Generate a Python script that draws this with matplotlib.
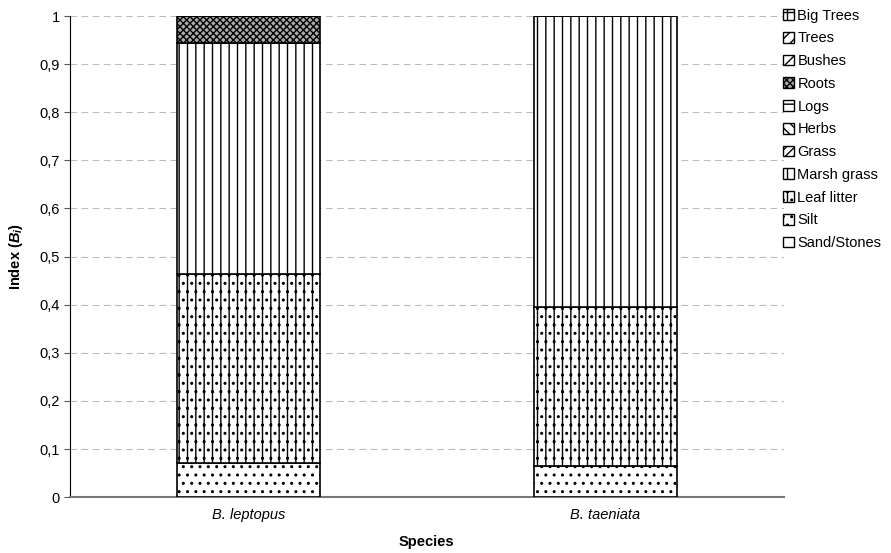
import numpy as np
import matplotlib
matplotlib.use("Agg")
import matplotlib.pyplot as plt
from matplotlib.patches import Patch

plt.rcParams['font.family'] = ['Liberation Sans', 'DejaVu Sans']
plt.rcParams['mathtext.fontset'] = 'custom'
plt.rcParams['mathtext.it'] = 'Liberation Sans:bold:italic'
plt.rcParams['mathtext.rm'] = 'Liberation Sans:bold'
plt.rcParams['hatch.color'] = '#707070'
plt.rcParams['hatch.linewidth'] = 1.0

species = ["B. leptopus", "B. taeniata"]
# stacking order, bottom to top
layers = ["Sand/Stones", "Silt", "Leaf litter", "Marsh grass", "Grass", "Herbs",
          "Logs", "Roots", "Bushes", "Trees", "Big Trees"]
sand = [0.0, 0.0]
silt = [0.071, 0.065]
leaf_litter = [0.393, 0.33]
marsh_grass = [0.479, 0.605]
grass = [0.0, 0.0]
herbs = [0.0, 0.0]
logs = [0.0, 0.0]
roots = [0.057, 0.0]
bushes = [0.0, 0.0]
trees = [0.0, 0.0]
big_trees = [0.0, 0.0]
values = [sand, silt, leaf_litter, marsh_grass, grass, herbs, logs, roots, bushes, trees, big_trees]
hatches = ['', '..', '||..', '||', '////', '\\\\\\', '--', 'xxxxx', '//', '///', '++']
facecols = ['white', 'white', 'white', 'white', 'white', 'white', 'white', '#aaaaaa', 'white', 'white', 'white']

fig = plt.figure(figsize=(8.91, 5.53), dpi=100)
ax = fig.add_axes([0.0786, 0.101, 0.801, 0.870])

x = np.arange(len(species))
bottom = np.zeros(len(species))
for name, vals, h, fc in zip(layers, values, hatches, facecols):
    vals = np.array(vals)
    ax.bar(x, vals, 0.4, bottom=bottom, color=fc, hatch=h, edgecolor='black',
           linewidth=1.2, zorder=3)
    bottom += vals

ax.set_xlim(-0.5, 1.5)
ax.set_ylim(0, 1)
ax.set_yticks(np.arange(0, 1.01, 0.1))
ax.set_yticklabels(["0" if i == 0 else ("1" if i == 10 else "0,%d" % i) for i in range(11)],
                   fontsize=10.5)
ax.set_xticks(x)
ax.set_xticklabels(species, fontstyle='italic', fontsize=10.5)
ax.tick_params(axis='x', length=0, pad=8)
ax.tick_params(axis='y', length=4, color='#555555')
ax.yaxis.grid(True, linestyle=(0, (6, 4)), color='#bbbbbb', linewidth=0.8, zorder=0)
for s in ['top', 'right']:
    ax.spines[s].set_visible(False)
ax.spines['left'].set_color('black')
ax.spines['bottom'].set_color('#777777')
ax.spines['bottom'].set_linewidth(1.5)
ax.set_ylabel(r'Index ($B_i$)', fontsize=10.5, fontweight='bold', labelpad=10)
ax.set_xlabel('Species', fontsize=10.5, fontweight='bold', labelpad=9)

handles = [Patch(facecolor=fc, edgecolor='black', hatch=h, label=n)
           for n, h, fc in zip(layers, hatches, facecols)][::-1]
fig.legend(handles=handles, loc='upper left', bbox_to_anchor=(0.872, 0.995), frameon=False,
           fontsize=10.5, handlelength=0.75, handleheight=0.75, handletextpad=0.25,
           labelspacing=0.6, borderaxespad=0)

fig.savefig("out.png", dpi=100)
